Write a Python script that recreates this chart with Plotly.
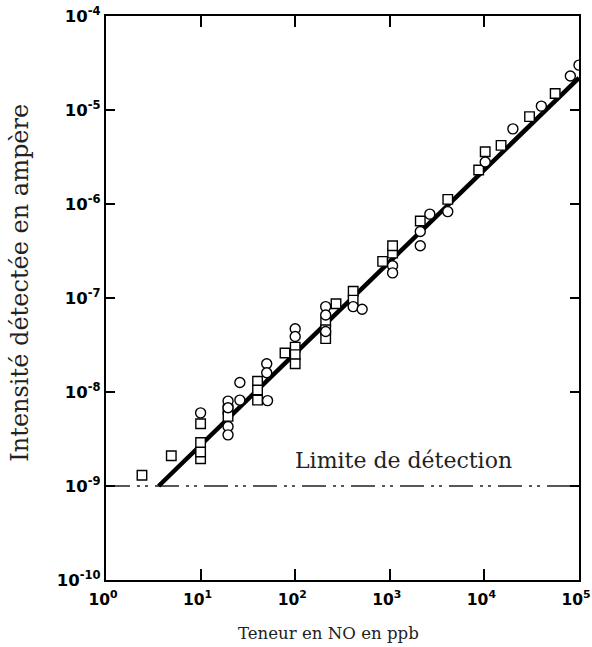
import plotly.graph_objects as go

# --- data ---
circles_x = [10, 19.5, 19.5, 19.5, 19.5, 26, 26, 51, 50, 50, 100, 100,
             210, 210, 210, 410, 510, 1070, 1070, 2100, 2100, 2650, 4100,
             10200, 20000, 40000, 81000, 100000]
circles_y = [6.0e-9, 8.0e-9, 6.8e-9, 4.3e-9, 3.5e-9, 1.26e-8, 8.2e-9, 8.1e-9,
             2.0e-8, 1.6e-8, 4.7e-8, 3.9e-8, 8.1e-8, 6.6e-8, 4.4e-8, 8.1e-8,
             7.6e-8, 2.2e-7, 1.85e-7, 3.6e-7, 5.1e-7, 7.8e-7, 8.3e-7, 2.8e-6,
             6.3e-6, 1.1e-5, 2.3e-5, 3.0e-5]

squares_x = [2.4, 4.9, 10, 10, 10, 10, 19.5, 19.5, 40, 40, 40, 78, 100, 100,
             100, 210, 210, 210, 270, 410, 410, 840, 1070, 1070, 2100, 4100,
             8700, 10200, 15000, 30000, 56000]
squares_y = [1.3e-9, 2.1e-9, 1.95e-9, 2.3e-9, 2.9e-9, 4.6e-9, 6.5e-9, 5.5e-9,
             1.3e-8, 1.05e-8, 8.2e-9, 2.6e-8, 3.0e-8, 2.5e-8, 2.0e-8, 5.6e-8,
             4.6e-8, 3.7e-8, 8.7e-8, 1.18e-7, 9.5e-8, 2.45e-7, 3.0e-7, 3.6e-7,
             6.6e-7, 1.12e-6, 2.3e-6, 3.6e-6, 4.2e-6, 8.5e-6, 1.5e-5]

fit_x = [3.6, 100000]
fit_y = [1.0e-9, 2.2e-5]

limit_x = [1, 100000]
limit_y = [1.0e-9, 1.0e-9]

x_ticks = [1, 10, 100, 1000, 10000, 100000]
x_ticktext = ["10<sup>0</sup>", "10<sup>1</sup>", "10<sup>2</sup>",
              "10<sup>3</sup>", "10<sup>4</sup>", "10<sup>5</sup>"]
y_ticks = [1e-10, 1e-9, 1e-8, 1e-7, 1e-6, 1e-5, 1e-4]
y_ticktext = ["10<sup>-10</sup>", "10<sup>-9</sup>", "10<sup>-8</sup>",
              "10<sup>-7</sup>", "10<sup>-6</sup>", "10<sup>-5</sup>",
              "10<sup>-4</sup>"]

fig = go.Figure()

fig.add_trace(go.Scatter(x=limit_x, y=limit_y, mode="lines",
                         line=dict(color="#222", width=1.7,
                                   dash="24px,7px,3px,5px,3px,7px"),
                         showlegend=False, hoverinfo="skip"))
fig.add_trace(go.Scatter(x=fit_x, y=fit_y, mode="lines",
                         line=dict(color="black", width=4.5),
                         showlegend=False))
fig.add_trace(go.Scatter(x=squares_x, y=squares_y, mode="markers",
                         marker=dict(symbol="square", size=9.5, color="white",
                                     line=dict(color="black", width=1.4)),
                         showlegend=False))
fig.add_trace(go.Scatter(x=circles_x, y=circles_y, mode="markers",
                         marker=dict(symbol="circle", size=10, color="white",
                                     line=dict(color="black", width=1.4)),
                         showlegend=False))

xtickfont = dict(family="DejaVu Sans", size=15.5, color="black", weight="bold")
ytickfont = dict(family="DejaVu Sans", size=16.5, color="black", weight="bold")

fig.update_xaxes(type="log", range=[0, 5], tickvals=x_ticks, ticktext=x_ticktext,
                 ticks="inside", ticklen=11, tickwidth=1.5, tickcolor="black",
                 showline=True, linecolor="black", linewidth=2.2, mirror="ticks",
                 showgrid=False, zeroline=False, tickfont=xtickfont,
                 ticklabelshift=-3, ticklabelstandoff=4,
                 ticklabeloverflow="allow", automargin=False)
fig.update_yaxes(type="log", range=[-10, -4], tickvals=y_ticks, ticktext=y_ticktext,
                 ticks="inside", ticklen=9, tickwidth=1.5, tickcolor="black",
                 showline=True, linecolor="black", linewidth=2.2, mirror="ticks",
                 showgrid=False, zeroline=False, tickfont=ytickfont,
                 ticklabeloverflow="allow", automargin=False)

serif = "DejaVu Serif"
fig.update_layout(
    width=592, height=647,
    margin=dict(l=106, r=13, t=16, b=67),
    plot_bgcolor="white", paper_bgcolor="white",
    annotations=[
        dict(text="Limite de détection", x=3.145, y=-8.73, xref="x", yref="y",
             showarrow=False, font=dict(family=serif, size=22, color="#222")),
        dict(text="Teneur en NO en ppb", x=0.471, y=-0.094, xref="paper", yref="paper",
             showarrow=False, yanchor="middle",
             font=dict(family=serif, size=16.6, color="#222")),
        dict(text="Intensité détectée en ampère", x=-0.182, y=0.527, xref="paper",
             yref="paper", showarrow=False, textangle=-90,
             xanchor="center", yanchor="middle",
             font=dict(family=serif, size=24, color="#222")),
    ],
)

fig.write_html("out.html")
